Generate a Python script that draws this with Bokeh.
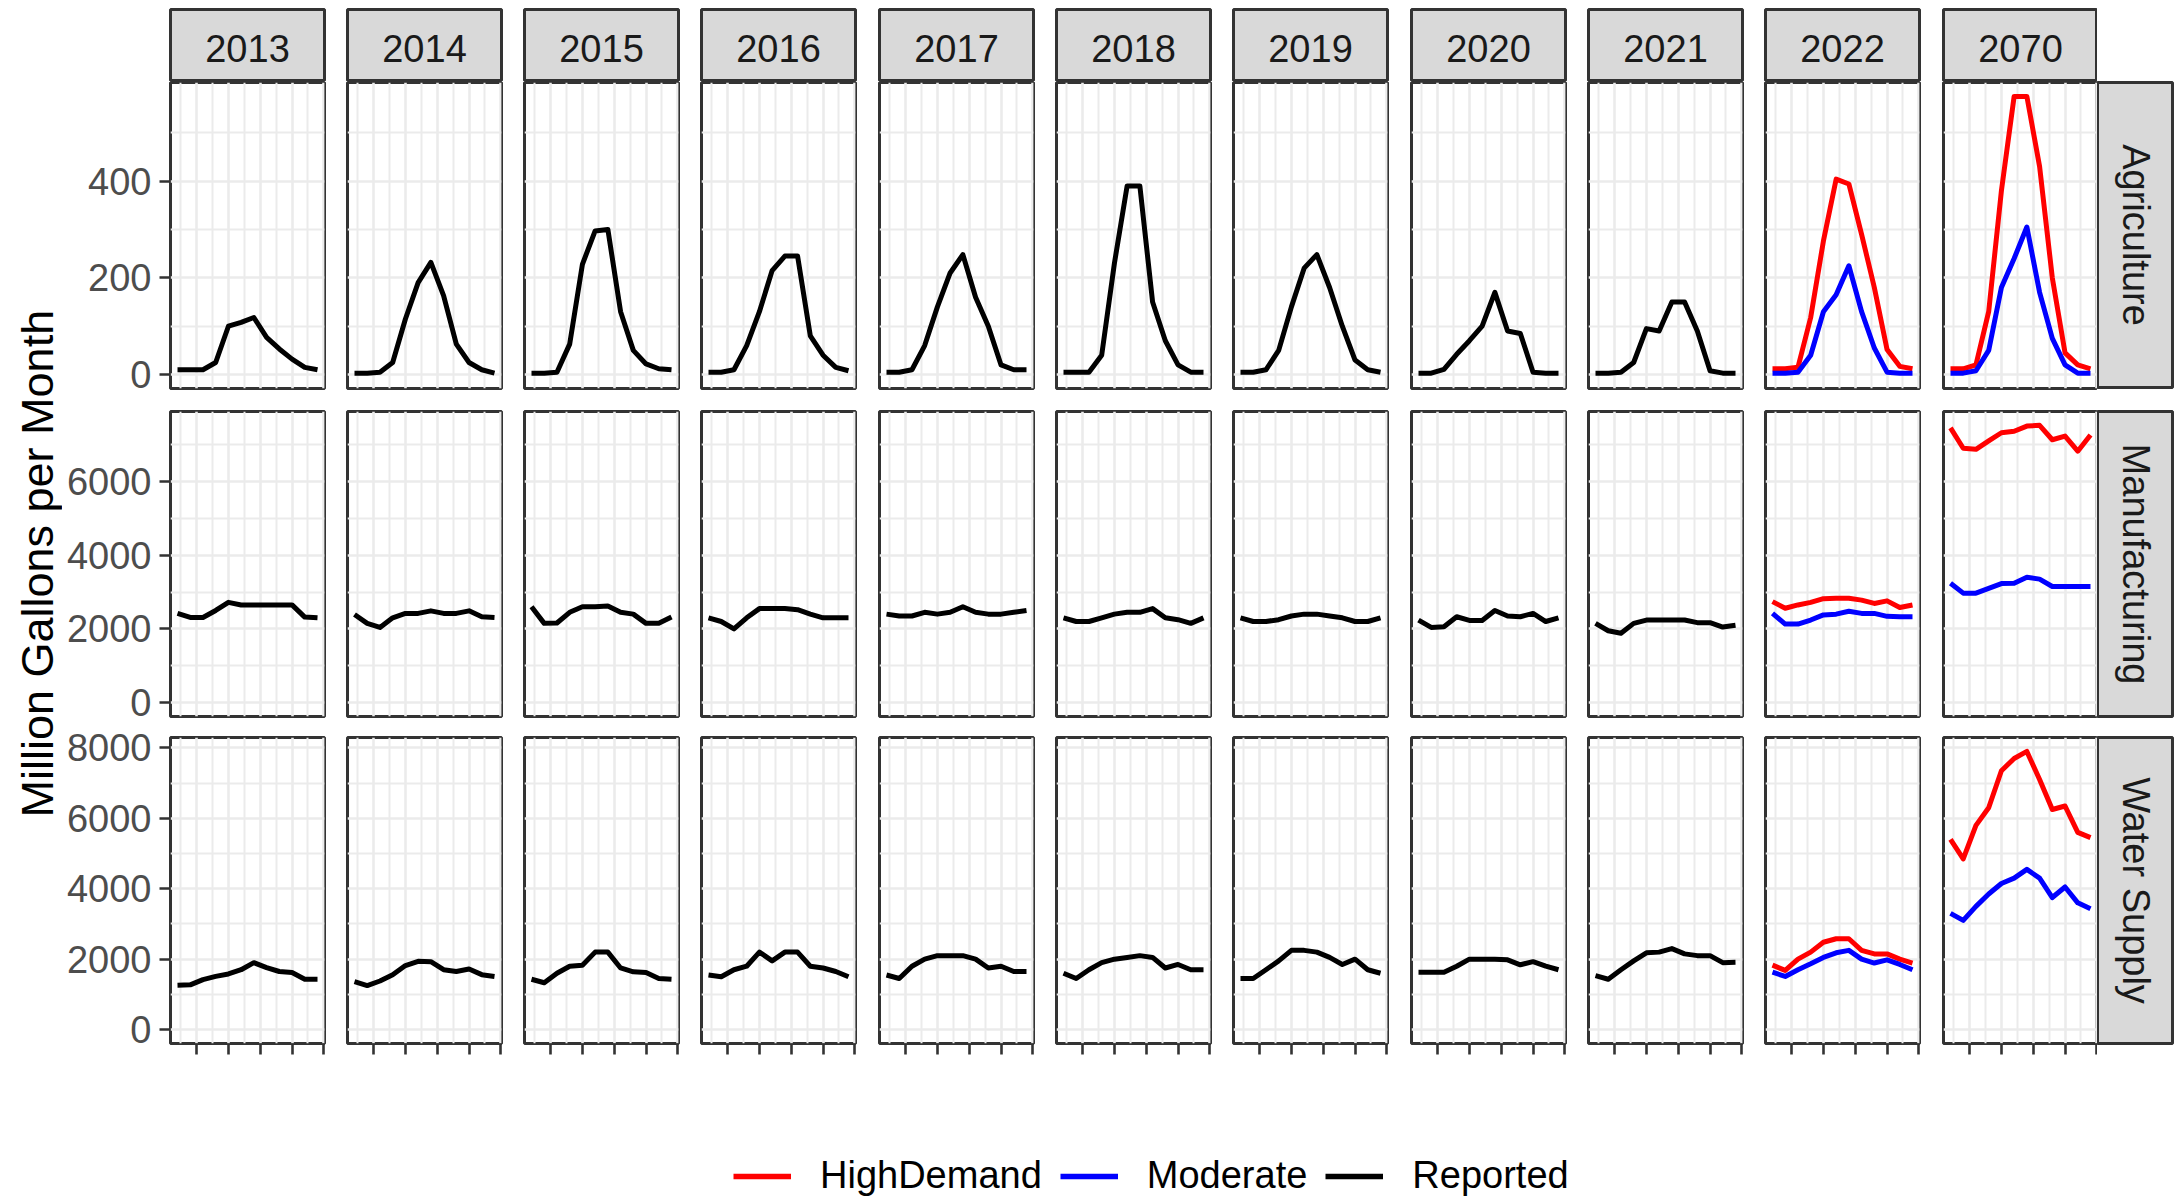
import numpy as np
from bokeh.plotting import figure
from bokeh.models import (GridBox, Range1d, LinearAxis, FixedTicker, Grid, Label,
                          Legend, LegendItem, CustomJSTickFormatter)
from bokeh.embed import file_html
from bokeh.resources import INLINE

# ---------------- data ----------------
months = list(range(1, 13))
years = ["2013", "2014", "2015", "2016", "2017", "2018", "2019", "2020", "2021", "2022", "2070"]
sectors = ["Agriculture", "Manufacturing", "Water Supply"]
legend_labels = ["HighDemand", "Moderate", "Reported"]

# Agriculture
ag_rep_2013 = [10, 10, 10, 25, 100, 108, 118, 77, 53, 32, 15, 10]
ag_rep_2014 = [3, 3, 5, 25, 115, 190, 232, 163, 63, 25, 10, 3]
ag_rep_2015 = [3, 3, 5, 63, 228, 297, 300, 130, 50, 22, 12, 10]
ag_rep_2016 = [5, 5, 10, 60, 130, 215, 245, 245, 80, 40, 15, 8]
ag_rep_2017 = [5, 5, 10, 60, 140, 210, 248, 160, 100, 20, 10, 10]
ag_rep_2018 = [5, 5, 5, 40, 230, 390, 390, 150, 70, 20, 5, 5]
ag_rep_2019 = [5, 5, 10, 50, 140, 220, 248, 180, 100, 30, 10, 5]
ag_rep_2020 = [3, 3, 11, 42, 70, 100, 170, 90, 85, 5, 3, 3]
ag_rep_2021 = [3, 3, 5, 25, 95, 90, 150, 150, 90, 8, 3, 3]
ag_hd_2022 = [12, 12, 15, 118, 276, 404, 394, 290, 180, 52, 17, 12]
ag_mod_2022 = [3, 3, 5, 40, 130, 165, 225, 130, 55, 5, 3, 3]
ag_hd_2070 = [12, 12, 20, 130, 380, 575, 575, 430, 200, 45, 20, 12]
ag_mod_2070 = [3, 3, 8, 50, 180, 240, 305, 170, 75, 20, 3, 3]

# Manufacturing
mf_rep_2013 = [2420, 2310, 2310, 2500, 2720, 2650, 2650, 2650, 2650, 2650, 2320, 2300]
mf_rep_2014 = [2390, 2150, 2040, 2300, 2420, 2420, 2490, 2420, 2420, 2490, 2330, 2310]
mf_rep_2015 = [2600, 2150, 2160, 2450, 2600, 2600, 2620, 2450, 2400, 2150, 2150, 2320]
mf_rep_2016 = [2300, 2200, 2000, 2300, 2550, 2550, 2550, 2520, 2400, 2300, 2300, 2300]
mf_rep_2017 = [2400, 2350, 2350, 2450, 2400, 2450, 2600, 2450, 2400, 2400, 2450, 2500]
mf_rep_2018 = [2300, 2200, 2200, 2300, 2400, 2450, 2450, 2550, 2300, 2250, 2150, 2300]
mf_rep_2019 = [2300, 2200, 2200, 2250, 2350, 2400, 2400, 2350, 2300, 2200, 2200, 2300]
mf_rep_2020 = [2240, 2040, 2060, 2330, 2230, 2230, 2500, 2350, 2330, 2420, 2200, 2300]
mf_rep_2021 = [2150, 1950, 1880, 2150, 2240, 2240, 2240, 2240, 2170, 2170, 2050, 2100]
mf_hd_2022 = [2740, 2560, 2650, 2720, 2820, 2830, 2830, 2780, 2690, 2760, 2580, 2650]
mf_mod_2022 = [2420, 2130, 2130, 2240, 2380, 2400, 2480, 2420, 2420, 2340, 2330, 2330]
mf_hd_2070 = [7450, 6900, 6870, 7100, 7320, 7360, 7500, 7520, 7130, 7230, 6820, 7260]
mf_mod_2070 = [3240, 2970, 2970, 3100, 3230, 3240, 3400, 3350, 3150, 3150, 3150, 3150]

# Water Supply
ws_rep_2013 = [1260, 1270, 1420, 1510, 1580, 1700, 1900, 1760, 1650, 1620, 1430, 1430]
ws_rep_2014 = [1360, 1250, 1380, 1560, 1820, 1940, 1930, 1700, 1650, 1720, 1560, 1510]
ws_rep_2015 = [1430, 1330, 1600, 1800, 1830, 2200, 2200, 1750, 1640, 1620, 1450, 1430]
ws_rep_2016 = [1550, 1500, 1700, 1800, 2200, 1950, 2200, 2200, 1800, 1750, 1650, 1500]
ws_rep_2017 = [1550, 1450, 1800, 2000, 2100, 2100, 2100, 2000, 1750, 1800, 1650, 1650]
ws_rep_2018 = [1600, 1450, 1700, 1900, 2000, 2050, 2100, 2050, 1750, 1850, 1700, 1700]
ws_rep_2019 = [1450, 1450, 1700, 1950, 2250, 2250, 2200, 2050, 1850, 2000, 1700, 1600]
ws_rep_2020 = [1630, 1630, 1630, 1800, 2000, 2000, 2000, 1980, 1840, 1930, 1800, 1700]
ws_rep_2021 = [1530, 1430, 1700, 1950, 2180, 2200, 2300, 2150, 2100, 2100, 1900, 1910]
ws_hd_2022 = [1830, 1680, 2000, 2200, 2480, 2580, 2580, 2250, 2150, 2150, 2000, 1890]
ws_mod_2022 = [1630, 1510, 1700, 1870, 2050, 2180, 2250, 2000, 1890, 1980, 1850, 1700]
ws_hd_2070 = [5400, 4850, 5800, 6300, 7350, 7700, 7900, 7100, 6250, 6350, 5600, 5450]
ws_mod_2070 = [3300, 3100, 3500, 3850, 4150, 4300, 4550, 4300, 3750, 4050, 3600, 3430]

# axis breaks
x_major = [2.5, 5, 7.5, 10, 12.5]
x_minor = [1.25, 3.75, 6.25, 8.75, 11.25]
ag_major = [0, 200, 400]
ag_minor = [100, 300, 500]
mf_major = [0, 2000, 4000, 6000]
mf_minor = [1000, 3000, 5000, 7000]
ws_major = [0, 2000, 4000, 6000, 8000]
ws_minor = [1000, 3000, 5000, 7000]

# ---------------- assemble tables ----------------
reported = {
    "Agriculture": [ag_rep_2013, ag_rep_2014, ag_rep_2015, ag_rep_2016, ag_rep_2017,
                    ag_rep_2018, ag_rep_2019, ag_rep_2020, ag_rep_2021],
    "Manufacturing": [mf_rep_2013, mf_rep_2014, mf_rep_2015, mf_rep_2016, mf_rep_2017,
                      mf_rep_2018, mf_rep_2019, mf_rep_2020, mf_rep_2021],
    "Water Supply": [ws_rep_2013, ws_rep_2014, ws_rep_2015, ws_rep_2016, ws_rep_2017,
                     ws_rep_2018, ws_rep_2019, ws_rep_2020, ws_rep_2021],
}
projected = {
    "Agriculture": {"2022": (ag_hd_2022, ag_mod_2022), "2070": (ag_hd_2070, ag_mod_2070)},
    "Manufacturing": {"2022": (mf_hd_2022, mf_mod_2022), "2070": (mf_hd_2070, mf_mod_2070)},
    "Water Supply": {"2022": (ws_hd_2022, ws_mod_2022), "2070": (ws_hd_2070, ws_mod_2070)},
}
ticks = {"Agriculture": (ag_major, ag_minor), "Manufacturing": (mf_major, mf_minor),
         "Water Supply": (ws_major, ws_minor)}

RED, BLUE, BLACK = "#FF0000", "#0000FF", "#000000"
LINE_W = 5


def panel_series(sector, year):
    if year in projected[sector]:
        hd, mod = projected[sector][year]
        return [(hd, RED), (mod, BLUE)]
    return [(reported[sector][years.index(year)], BLACK)]


def y_range_for(sector):
    vals = [v for yr in years for s, _ in panel_series(sector, yr) for v in s]
    lo, hi = min(0, min(vals)), max(vals)
    pad = 0.05 * (hi - lo)
    return Range1d(lo - pad, hi + pad)


x_range = Range1d(1 - 0.05 * 11, 12 + 0.05 * 11)
y_ranges = {s: y_range_for(s) for s in sectors}

# ---------------- layout geometry (screen px) ----------------
FONT = "Liberation Sans"
FW = 154
F0, STEP = 169.5, 177.3
frame_left = [int(F0 + STEP * c + 0.5) for c in range(11)]
TITLE_W = 62
TOTAL_W = 2178

col_bl, col_br = [], []
for c in range(11):
    fig_left = TITLE_W if c == 0 else frame_left[c] - 2
    fig_right = frame_left[c + 1] - 2 if c < 10 else frame_left[10] + FW
    col_bl.append(frame_left[c] - fig_left)
    col_br.append(fig_right - (frame_left[c] + FW))
RS_W = TOTAL_W - (frame_left[10] + FW)
RS_FW = 75

row_geom = [(0, 306, 12), (12, 305, 10), (11, 306, 18)]   # top border, frame h, bottom border
strip_geom = (9, 72, 0)
LEG_H = 136


def make_fig(fw, fh, bl, br, bt, bb, xr=None, yr=None, bg="white"):
    p = figure(frame_width=fw, frame_height=fh, min_border_left=bl, min_border_right=br,
               min_border_top=bt, min_border_bottom=bb, x_axis_type=None, y_axis_type=None,
               x_range=xr if xr is not None else Range1d(0, 1),
               y_range=yr if yr is not None else Range1d(0, 1),
               tools="", toolbar_location=None, output_backend="svg")
    p.background_fill_color = bg
    p.border_fill_color = "white"
    p.outline_line_color = None
    return p


children = []

# axis title
tf = make_fig(TITLE_W, sum(g[0] + g[1] + g[2] for g in row_geom), 0, 0, 0, 0)
tf.add_layout(Label(x=0.594, y=0.509, text="Million Gallons per Month", angle=np.pi / 2,
                    text_align="center", text_baseline="middle", text_font_size="45px",
                    text_font=FONT, text_color="black"))
children.append((tf, 1, 0, 3, 1))

# top strips
for c, yr in enumerate(years):
    bt, fh, bb = strip_geom
    s = make_fig(FW, fh, col_bl[c], col_br[c], bt, bb, bg="#D9D9D9")
    s.outline_line_color = "#333333"
    s.outline_line_width = 3
    s.add_layout(Label(x=0.5, y=0.455, text=yr, text_align="center", text_baseline="middle",
                       text_font_size="38px", text_font=FONT, text_color="#1A1A1A"))
    children.append((s, 0, c + 1))

# panels
for r, sector in enumerate(sectors):
    bt, fh, bb = row_geom[r]
    major, minor = ticks[sector]
    for c, yr in enumerate(years):
        p = make_fig(FW, fh, col_bl[c], col_br[c], bt, bb, xr=x_range, yr=y_ranges[sector])
        p.outline_line_color = "#333333"
        p.outline_line_width = 3
        p.add_layout(Grid(dimension=0, ticker=FixedTicker(ticks=x_major, minor_ticks=x_minor),
                          grid_line_color="#EBEBEB", grid_line_width=2.6,
                          minor_grid_line_color="#EBEBEB", minor_grid_line_width=2.0))
        p.add_layout(Grid(dimension=1, ticker=FixedTicker(ticks=major, minor_ticks=minor),
                          grid_line_color="#EBEBEB", grid_line_width=2.6,
                          minor_grid_line_color="#EBEBEB", minor_grid_line_width=2.0))
        for vals, col in panel_series(sector, yr):
            p.line(months, vals, line_color=col, line_width=LINE_W, line_join="round")
        if c == 0:
            ya = LinearAxis(ticker=FixedTicker(ticks=major, minor_ticks=[]),
                            axis_line_color=None, major_tick_out=11, major_tick_in=0,
                            minor_tick_out=0, minor_tick_in=0,
                            major_tick_line_color="#333333", major_tick_line_width=2.6,
                            major_label_standoff=8, major_label_text_font_size="38px",
                            major_label_text_font=FONT, major_label_text_color="#4D4D4D")
            p.add_layout(ya, "left")
        if r == 2:
            xa = LinearAxis(ticker=FixedTicker(ticks=x_major, minor_ticks=[]),
                            formatter=CustomJSTickFormatter(code="return ''"),
                            axis_line_color=None, major_tick_out=11, major_tick_in=0,
                            minor_tick_out=0, minor_tick_in=0,
                            major_tick_line_color="#333333", major_tick_line_width=2.6,
                            major_label_standoff=0, major_label_text_font_size="1px")
            p.add_layout(xa, "below")
        children.append((p, r + 1, c + 1))

    # right strip
    rbt = 1 if r == 0 else bt
    rfh = fh - 1 if r == 0 else fh
    rs = make_fig(RS_FW, rfh, 0, RS_W - RS_FW, rbt, bb, bg="#D9D9D9")
    rs.outline_line_color = "#333333"
    rs.outline_line_width = 3
    rs.add_layout(Label(x=0.515, y=0.5, text=sector, angle=-np.pi / 2, text_align="center",
                        text_baseline="middle", text_font_size="38px", text_font=FONT,
                        text_color="#1A1A1A"))
    children.append((rs, r + 1, 12))

# legend (dummy renderers kept outside the visible range)
lg = make_fig(TOTAL_W, LEG_H, 0, 0, 0, 0)
items = []
for name, col in zip(legend_labels, [RED, BLUE, BLACK]):
    rr = lg.line(x=[-5, -4], y=[-5, -4], line_color=col, line_width=5.5)
    items.append(LegendItem(label=name, renderers=[rr]))
leg = Legend(items=items, orientation="horizontal", location=(733, 0),
             glyph_width=58, glyph_height=20, label_standoff=29, spacing=18,
             padding=0, margin=0, border_line_color=None, background_fill_alpha=0,
             label_text_font_size="38px", label_text_font=FONT, label_text_color="black")
lg.add_layout(leg)
children.append((lg, 4, 0, 1, 13))

layout = GridBox(children=children, spacing=0)

open("out.html", "w").write(file_html(layout, INLINE))
